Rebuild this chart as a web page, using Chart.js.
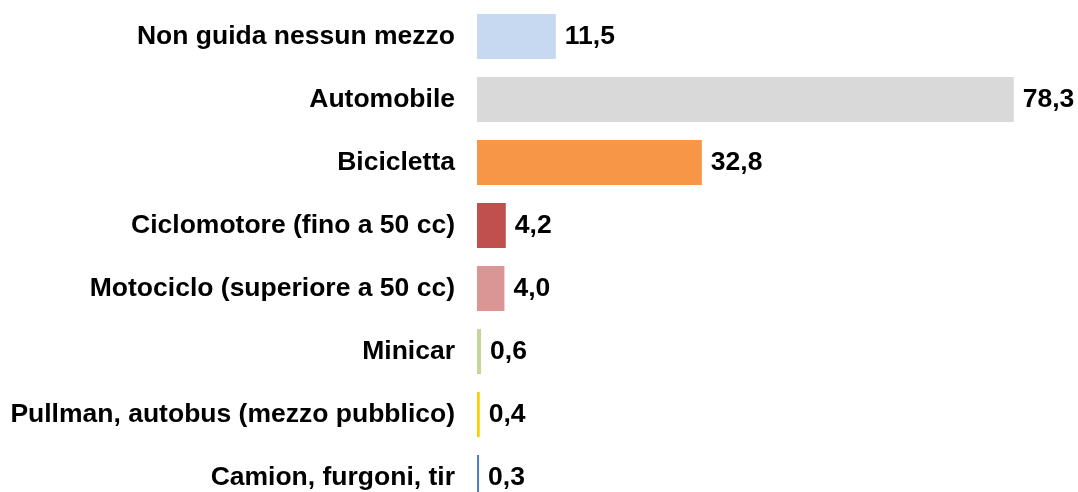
<!DOCTYPE html>
<html>
<head>
<meta charset="utf-8">
<script src="https://cdn.jsdelivr.net/npm/chart.js@4/dist/chart.umd.min.js"></script>
<style>
  html, body { margin: 0; padding: 0; background: #fff; overflow: hidden; }
</style>
</head>
<body>
<canvas id="c" width="1078" height="514"></canvas>
<script>
const categories = [
  "Non guida nessun mezzo",
  "Automobile",
  "Bicicletta",
  "Ciclomotore (fino a 50 cc)",
  "Motociclo (superiore a 50 cc)",
  "Minicar",
  "Pullman, autobus (mezzo pubblico)",
  "Camion, furgoni, tir"
];
const values = [11.5, 78.3, 32.8, 4.2, 4.0, 0.6, 0.4, 0.3];
const barColors = ["#c6d9f1", "#d9d9d9", "#f79646", "#c0504d", "#d99694", "#c3d69b", "#ffcc00", "#4f81bd"];

const FONT = "'Liberation Sans', Arial, Helvetica, sans-serif";
const FSIZE = 26.5;

const valueLabels = {
  id: "valueLabels",
  afterDatasetsDraw(chart) {
    const ctx = chart.ctx;
    const meta = chart.getDatasetMeta(0);
    ctx.save();
    ctx.font = "bold " + FSIZE + "px " + FONT;
    ctx.fillStyle = "#000";
    ctx.textAlign = "left";
    ctx.textBaseline = "middle";
    meta.data.forEach((bar, i) => {
      const txt = values[i].toFixed(1).replace(".", ",");
      ctx.fillText(txt, bar.x + 9, bar.y);
    });
    ctx.restore();
  }
};

new Chart(document.getElementById("c"), {
  type: "bar",
  data: {
    labels: categories,
    datasets: [{
      data: values,
      backgroundColor: barColors,
      borderWidth: 0,
      categoryPercentage: 1,
      barPercentage: 45 / 63
    }]
  },
  options: {
    indexAxis: "y",
    responsive: false,
    animation: false,
    layout: { padding: { top: 5, bottom: 5, left: 0, right: 4.6 } },
    plugins: { legend: { display: false }, tooltip: { enabled: false } },
    scales: {
      x: { display: false, min: 0, max: 87 },
      y: {
        afterFit(scale) { scale.width = 477; scale.paddingTop = 0; scale.paddingBottom = 0; },
        grid: { display: false, drawTicks: false },
        border: { display: false },
        ticks: {
          padding: 22,
          color: "#000",
          font: { family: FONT, size: FSIZE, weight: "bold" }
        }
      }
    }
  },
  plugins: [valueLabels]
});
</script>
</body>
</html>
